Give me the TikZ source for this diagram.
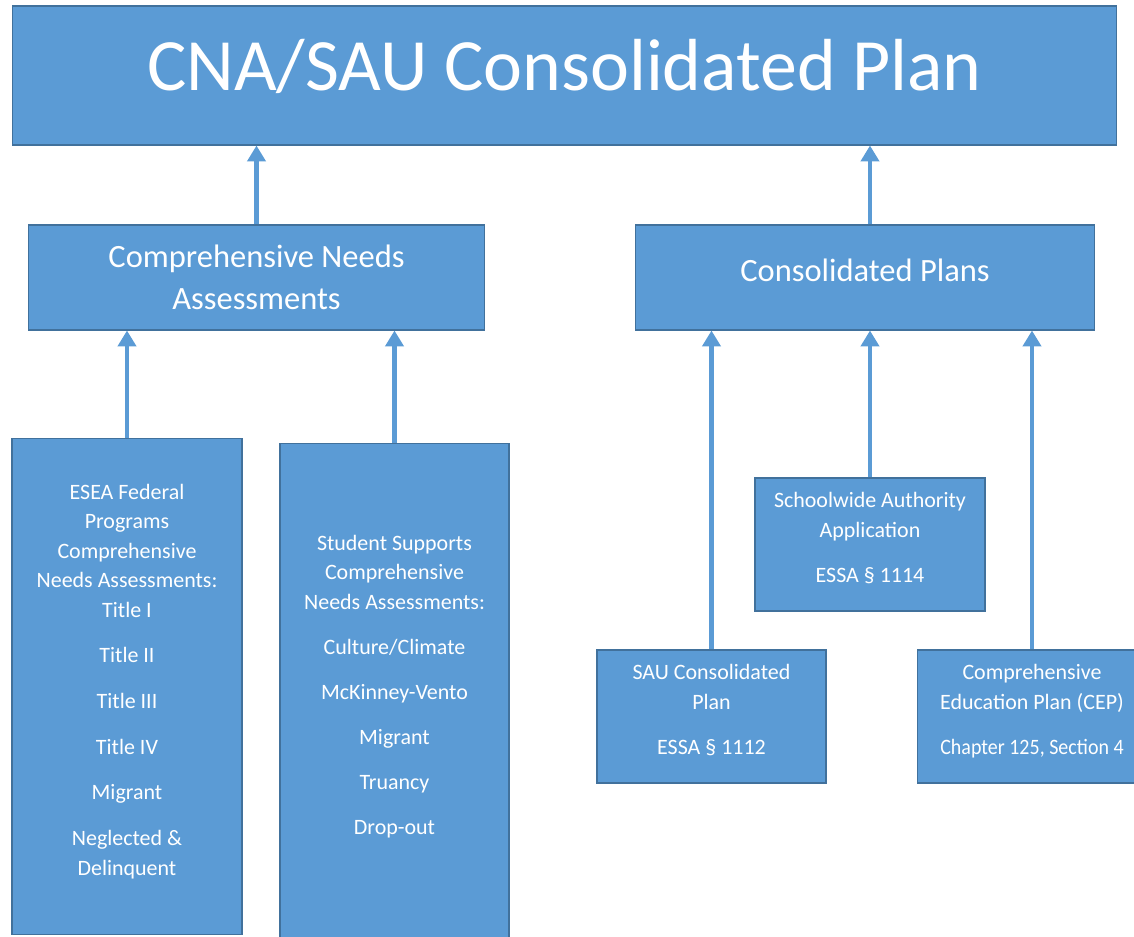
\documentclass[tikz,border=0pt]{standalone}
\usepackage{fontspec}
\usepackage{graphicx}
\setmainfont{Carlito}
\usetikzlibrary{arrows.meta}

\definecolor{boxblue}{HTML}{5B9BD5}
\definecolor{boxedge}{HTML}{41719C}

\tikzset{
  box/.style={draw=boxedge, fill=boxblue, line width=0.6pt, text=white,
              align=center, inner sep=0pt},
  flow/.style={draw=boxblue, line width=2.8pt,
               -{Triangle[width=10.2pt,length=9pt]}},
  small/.style={font=\fontsize{12.5}{16.8}\selectfont, text depth=8pt},
  medium/.style={font=\fontsize{18.5}{23.9}\selectfont},
}

% lift a one-line label without changing its box
\newcommand{\lift}[2]{\raisebox{#1}[\height][\depth]{#2}}

\begin{document}
\begin{tikzpicture}[x=0.02cm,y=-0.02cm]
  \useasboundingbox (0,0) rectangle (1134,937);

  % top level
  \node[box, minimum width=22.1cm, minimum height=2.78cm,
        font=\fontsize{42}{50}\selectfont] (plan) at (564.5,75.5)
        {\lift{5pt}{CNA/SAU Consolidated Plan}};

  % second level
  \node[box, medium, minimum width=9.14cm, minimum height=2.1cm] (cna) at (256.5,277.5)
        {Comprehensive Needs\\Assessments};
  \node[box, medium, minimum width=9.2cm, minimum height=2.1cm] (cons) at (865,277.5)
        {\lift{4pt}{Consolidated Plans}};

  % needs assessments
  \node[box, small, minimum width=4.6cm, minimum height=9.94cm] (esea) at (127,686.5)
        {ESEA Federal\\Programs\\Comprehensive\\Needs Assessments:\\Title I\\[9.2pt]
         Title II\\[9.2pt]Title III\\[9.2pt]Title IV\\[9.2pt]Migrant\\[9.2pt]
         Neglected \&\\Delinquent};
  \node[box, small, minimum width=4.58cm, minimum height=9.94cm] (stud) at (394.5,691.5)
        {Student Supports\\Comprehensive\\Needs Assessments:\\[8.8pt]Culture/Climate\\[8.8pt]
         McKinney-Vento\\[8.8pt]Migrant\\[8.8pt]Truancy\\[8.8pt]Drop-out};

  % plans
  \node[box, small, minimum width=4.6cm, minimum height=2.66cm] (school) at (870,544.5)
        {Schoolwide Authority\\Application\\[9.2pt]ESSA § 1114};
  \node[box, small, minimum width=4.58cm, minimum height=2.66cm] (sau) at (711.5,716.5)
        {SAU Consolidated\\Plan\\[9.2pt]ESSA § 1112};
  \node[box, small, minimum width=4.6cm, minimum height=2.66cm] (cep) at (1032,716.5)
        {Comprehensive\\Education Plan (CEP)\\[9.2pt]\scalebox{0.91}[1]{Chapter 125, Section 4}};

  % arrows
  \draw[flow] (cna.north) -- (cna.north |- plan.south);
  \draw[flow] (cons.north -| school.north) -- (school.north |- plan.south);
  \draw[flow] (esea.north) -- (esea.north |- cna.south);
  \draw[flow] (stud.north) -- (stud.north |- cna.south);
  \draw[flow] (sau.north) -- (sau.north |- cons.south);
  \draw[flow] (school.north) -- (school.north |- cons.south);
  \draw[flow] (cep.north) -- (cep.north |- cons.south);
\end{tikzpicture}
\end{document}
